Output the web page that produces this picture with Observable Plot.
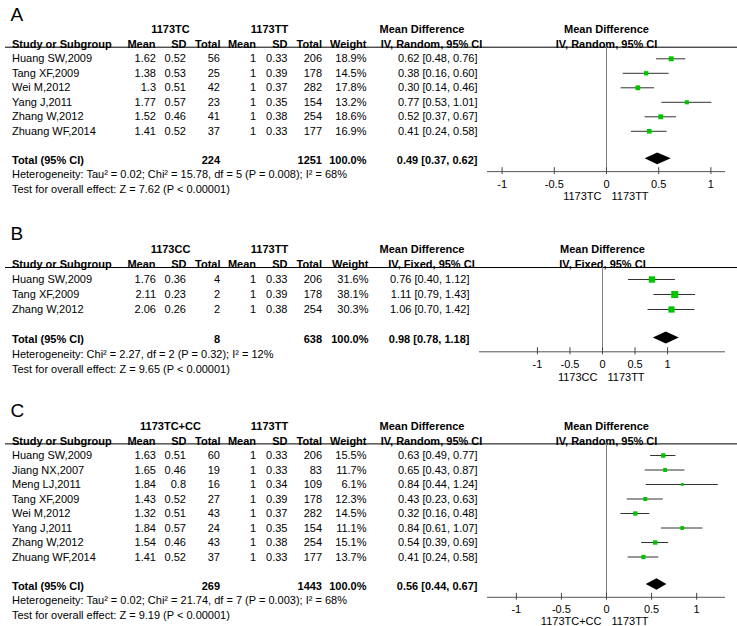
<!DOCTYPE html>
<html>
<head>
<meta charset="utf-8">
<script src="https://cdn.jsdelivr.net/npm/d3@7"></script>
<script src="https://cdn.jsdelivr.net/npm/@observablehq/plot@0.6"></script>
<style>
  html, body { margin: 0; padding: 0; background: #fff; }
  #chart { width: 737px; }
  #chart svg { display: block; }
</style>
</head>
<body>
<div id="chart"></div>
<script>
// ---------- Panel A data ----------
const labelA = "A";
const groupsA = ["1173TC", "1173TT"];
const methodA = "IV, Random, 95% CI";
const studiesA = ["Huang SW,2009", "Tang XF,2009", "Wei M,2012", "Yang J,2011", "Zhang W,2012", "Zhuang WF,2014"];
const expMeanA = [1.62, 1.38, 1.3, 1.77, 1.52, 1.41];
const expSdA = [0.52, 0.53, 0.51, 0.57, 0.46, 0.52];
const expNA = [56, 25, 42, 23, 41, 37];
const ctlMeanA = [1, 1, 1, 1, 1, 1];
const ctlSdA = [0.33, 0.39, 0.37, 0.35, 0.38, 0.33];
const ctlNA = [206, 178, 282, 154, 254, 177];
const weightA = [18.9, 14.5, 17.8, 13.2, 18.6, 16.9];
const mdA = [0.62, 0.38, 0.30, 0.77, 0.52, 0.41];
const loA = [0.48, 0.16, 0.14, 0.53, 0.37, 0.24];
const hiA = [0.76, 0.60, 0.46, 1.01, 0.67, 0.58];
const totalNA = [224, 1251];
const totalEffA = [0.49, 0.37, 0.62];
const hetA = "Heterogeneity: Tau² = 0.02; Chi² = 15.78, df = 5 (P = 0.008); I² = 68%";
const testA = "Test for overall effect: Z = 7.62 (P < 0.00001)";

// ---------- Panel B data ----------
const labelB = "B";
const groupsB = ["1173CC", "1173TT"];
const methodB = "IV, Fixed, 95% CI";
const studiesB = ["Huang SW,2009", "Tang XF,2009", "Zhang W,2012"];
const expMeanB = [1.76, 2.11, 2.06];
const expSdB = [0.36, 0.23, 0.26];
const expNB = [4, 2, 2];
const ctlMeanB = [1, 1, 1];
const ctlSdB = [0.33, 0.39, 0.38];
const ctlNB = [206, 178, 254];
const weightB = [31.6, 38.1, 30.3];
const mdB = [0.76, 1.11, 1.06];
const loB = [0.40, 0.79, 0.70];
const hiB = [1.12, 1.43, 1.42];
const totalNB = [8, 638];
const totalEffB = [0.98, 0.78, 1.18];
const hetB = "Heterogeneity: Chi² = 2.27, df = 2 (P = 0.32); I² = 12%";
const testB = "Test for overall effect: Z = 9.65 (P < 0.00001)";

// ---------- Panel C data ----------
const labelC = "C";
const groupsC = ["1173TC+CC", "1173TT"];
const methodC = "IV, Random, 95% CI";
const studiesC = ["Huang SW,2009", "Jiang NX,2007", "Meng LJ,2011", "Tang XF,2009", "Wei M,2012", "Yang J,2011", "Zhang W,2012", "Zhuang WF,2014"];
const expMeanC = [1.63, 1.65, 1.84, 1.43, 1.32, 1.84, 1.54, 1.41];
const expSdC = [0.51, 0.46, 0.8, 0.52, 0.51, 0.57, 0.46, 0.52];
const expNC = [60, 19, 16, 27, 43, 24, 43, 37];
const ctlMeanC = [1, 1, 1, 1, 1, 1, 1, 1];
const ctlSdC = [0.33, 0.33, 0.34, 0.39, 0.37, 0.35, 0.38, 0.33];
const ctlNC = [206, 83, 109, 178, 282, 154, 254, 177];
const weightC = [15.5, 11.7, 6.1, 12.3, 14.5, 11.1, 15.1, 13.7];
const mdC = [0.63, 0.65, 0.84, 0.43, 0.32, 0.84, 0.54, 0.41];
const loC = [0.49, 0.43, 0.44, 0.23, 0.16, 0.61, 0.39, 0.24];
const hiC = [0.77, 0.87, 1.24, 0.63, 0.48, 1.07, 0.69, 0.58];
const totalNC = [269, 1443];
const totalEffC = [0.56, 0.44, 0.67];
const hetC = "Heterogeneity: Tau² = 0.02; Chi² = 21.74, df = 7 (P = 0.003); I² = 68%";
const testC = "Test for overall effect: Z = 9.19 (P < 0.00001)";

const axisTicks = [-1, -0.5, 0, 0.5, 1];

// ---------- layout (pixels) ----------
const layoutA = {H: 200, y0: 58.3, rowH: 14.5, ml: 487, mr: 12, xr: 1.14, mdX: 477, wX: 366, axisOff: 0.78};
const layoutB = {H: 183, y0: 79, rowH: 15, ml: 479, mr: 12, xr: 1.89, mdX: 469, wX: 368, axisOff: 0.82};
const layoutC = {H: 243, y0: 72, rowH: 14.5, ml: 487, mr: 12, xr: 1.32, mdX: 477, wX: 366, axisOff: 0.78};

const FONT = "'Liberation Sans', Arial, Helvetica, sans-serif";
const fmt2 = v => v.toFixed(2);
const ciText = (m, l, h) => `${fmt2(m)} [${fmt2(l)}, ${fmt2(h)}]`;

function panel(d, L) {
  const n = d.names.length;
  const rows = d.names.map((name, i) => ({
    row: i, name,
    em: d.expMean[i], es: d.expSd[i], en: d.expN[i],
    cm: d.ctlMean[i], cs: d.ctlSd[i], cn: d.ctlN[i],
    w: d.weight[i], md: d.md[i], lo: d.lo[i], hi: d.hi[i]
  }));
  const totalRow = n + 1, hetRow = n + 2, testRow = n + 3;
  const axisRow = n + 1 + L.axisOff;
  const ML = L.ml;
  const T = (data, opts) => Plot.text(data, {frameAnchor: "left", fontSize: 11, fill: "#000", ...opts});
  const colEnd = (x, text, extra = {}) => T(rows, {y: "row", text, dx: x - ML, textAnchor: "end", ...extra});
  const header = (label, x, anchor, row) => T([label], {y: () => row, text: t => t, dx: x - ML, textAnchor: anchor, fontWeight: "bold"});
  const [tMd, tLo, tHi] = d.totalEff;

  const marks = [
    // panel letter
    T([d.label], {y: () => -3.05, text: t => t, dx: 10 - ML, textAnchor: "start", fontSize: 19}),
    // group headers
    header(d.groups[0], 170, "middle", -2),
    header(d.groups[1], 269, "middle", -2),
    header("Mean Difference", 421.5, "middle", -2),
    Plot.text(["Mean Difference"], {x: () => 0, y: () => -2, text: t => t, fontSize: 11, fontWeight: "bold"}),
    // column headers
    header("Study or Subgroup", 11.5, "start", -1),
    header("Mean", 155, "end", -1),
    header("SD", 186, "end", -1),
    header("Total", 220, "end", -1),
    header("Mean", 255.5, "end", -1),
    header("SD", 287, "end", -1),
    header("Total", 321.5, "end", -1),
    header("Weight", L.wX, "end", -1),
    header(d.method, 431, "middle", -1),
    Plot.text([d.method], {x: () => 0, y: () => -1, text: t => t, fontSize: 11, fontWeight: "bold"}),
    // header rule across the whole width
    Plot.ruleY([-0.8], {stroke: "#000", strokeWidth: 1, insetLeft: -(ML - 5), insetRight: -L.mr}),
    // study rows
    T(rows, {y: "row", text: "name", dx: 11.5 - ML, textAnchor: "start"}),
    colEnd(155.5, r => String(r.em)),
    colEnd(185.5, r => String(r.es)),
    colEnd(219.5, r => String(r.en)),
    colEnd(255.5, r => String(r.cm)),
    colEnd(287, r => String(r.cs)),
    colEnd(321.5, r => String(r.cn)),
    colEnd(L.wX, r => r.w.toFixed(1) + "%"),
    colEnd(L.mdX, r => ciText(r.md, r.lo, r.hi)),
    // total row
    T(["Total (95% CI)"], {y: () => totalRow, text: t => t, dx: 11.5 - ML, textAnchor: "start", fontWeight: "bold"}),
    T([d.totalN[0]], {y: () => totalRow, text: t => String(t), dx: 219.5 - ML, textAnchor: "end", fontWeight: "bold"}),
    T([d.totalN[1]], {y: () => totalRow, text: t => String(t), dx: 321.5 - ML, textAnchor: "end", fontWeight: "bold"}),
    T(["100.0%"], {y: () => totalRow, text: t => t, dx: L.wX - ML, textAnchor: "end", fontWeight: "bold"}),
    T([d.totalEff], {y: () => totalRow, text: e => ciText(e[0], e[1], e[2]), dx: L.mdX - ML, textAnchor: "end", fontWeight: "bold"}),
    // footer lines
    T([d.het], {y: () => hetRow, text: t => t, dx: 11.5 - ML, textAnchor: "start"}),
    T([d.test], {y: () => testRow, text: t => t, dx: 11.5 - ML, textAnchor: "start"}),
    // zero line
    Plot.ruleX([0], {y1: -0.8, y2: axisRow, stroke: "#808080", strokeWidth: 1}),
    // axis
    Plot.ruleY([axisRow], {stroke: "#555", strokeWidth: 1}),
    Plot.ruleX(axisTicks, {x: t => t, y1: axisRow - 0.27, y2: axisRow + 0.2, stroke: "#444"}),
    Plot.text(axisTicks, {x: t => t, y: axisRow + 0.86, text: t => String(t), fontSize: 11}),
    Plot.text([d.groups[0]], {x: () => 0, y: () => axisRow + 1.68, text: t => t, textAnchor: "end", dx: -5, fontSize: 11}),
    Plot.text([d.groups[1]], {x: () => 0, y: () => axisRow + 1.68, text: t => t, textAnchor: "start", dx: 5, fontSize: 11}),
    // confidence intervals and boxes
    Plot.ruleY(rows, {y: "row", x1: "lo", x2: "hi", stroke: "#333", strokeWidth: 1}),
    Plot.dot(rows, {x: "md", y: "row", r: "w", symbol: "square", fill: "#00c400", stroke: "none"}),
    // pooled diamond
    Plot.areaY([
      {x: tLo, y1: totalRow - 0.1, y2: totalRow - 0.1},
      {x: tMd, y1: totalRow - 0.5, y2: totalRow + 0.3},
      {x: tHi, y1: totalRow - 0.1, y2: totalRow - 0.1}
    ], {x: "x", y1: "y1", y2: "y2", fill: "#000"})
  ];

  return Plot.plot({
    width: 737,
    height: L.H,
    marginLeft: ML,
    marginRight: L.mr,
    marginTop: 0,
    marginBottom: 0,
    x: {domain: [-L.xr, L.xr], axis: null},
    y: {domain: [-L.y0 / L.rowH, (L.H - L.y0) / L.rowH], range: [0, L.H], axis: null},
    r: {type: "sqrt", domain: [0, 100], range: [0, 6.4]},
    style: {fontFamily: FONT, fontSize: "11px", background: "#fff", color: "#000", overflow: "visible"},
    marks
  });
}

const panelA = {label: labelA, groups: groupsA, method: methodA, names: studiesA, expMean: expMeanA, expSd: expSdA, expN: expNA,
  ctlMean: ctlMeanA, ctlSd: ctlSdA, ctlN: ctlNA, weight: weightA, md: mdA, lo: loA, hi: hiA, totalN: totalNA, totalEff: totalEffA, het: hetA, test: testA};
const panelB = {label: labelB, groups: groupsB, method: methodB, names: studiesB, expMean: expMeanB, expSd: expSdB, expN: expNB,
  ctlMean: ctlMeanB, ctlSd: ctlSdB, ctlN: ctlNB, weight: weightB, md: mdB, lo: loB, hi: hiB, totalN: totalNB, totalEff: totalEffB, het: hetB, test: testB};
const panelC = {label: labelC, groups: groupsC, method: methodC, names: studiesC, expMean: expMeanC, expSd: expSdC, expN: expNC,
  ctlMean: ctlMeanC, ctlSd: ctlSdC, ctlN: ctlNC, weight: weightC, md: mdC, lo: loC, hi: hiC, totalN: totalNC, totalEff: totalEffC, het: hetC, test: testC};

const chart = document.getElementById("chart");
chart.appendChild(panel(panelA, layoutA));
chart.appendChild(panel(panelB, layoutB));
chart.appendChild(panel(panelC, layoutC));
</script>
</body>
</html>
